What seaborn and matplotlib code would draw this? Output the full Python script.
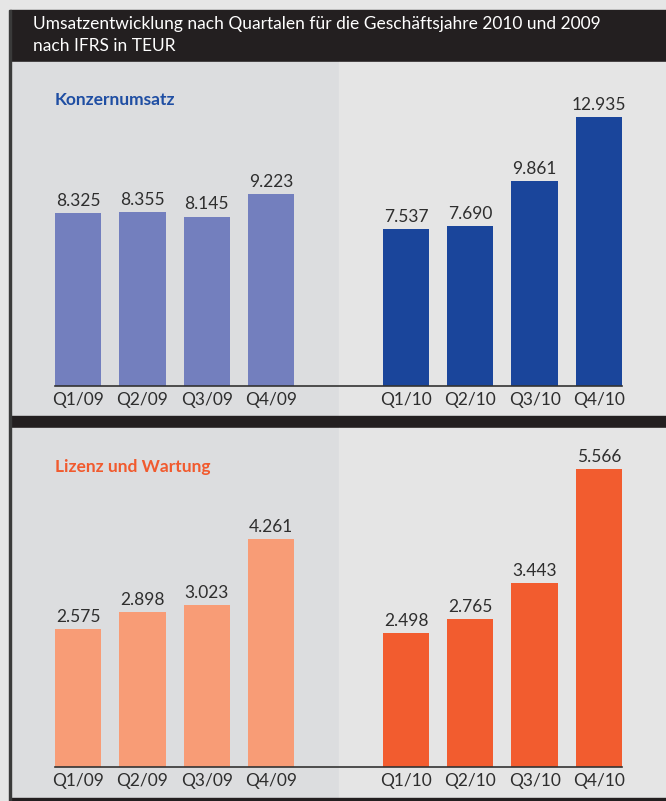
import pandas as pd
import matplotlib.pyplot as plt
import matplotlib.patches as mpatches
import seaborn as sns

# Daten (TEUR)
quartale = ['Q1/09', 'Q2/09', 'Q3/09', 'Q4/09', 'Q1/10', 'Q2/10', 'Q3/10', 'Q4/10']
konzernumsatz = [8325, 8355, 8145, 9223, 7537, 7690, 9861, 12935]
lizenz_wartung = [2575, 2898, 3023, 4261, 2498, 2765, 3443, 5566]

titel = 'Umsatzentwicklung nach Quartalen für die Geschäftsjahre 2010 und 2009\nnach IFRS in TEUR'

farben_konzern = ['#737fbe'] * 4 + ['#1a459b'] * 4
farben_lizenz = ['#f89c76'] * 4 + ['#f25c2f'] * 4

sns.set_style('white')
plt.rcParams['font.family'] = ['Lato', 'DejaVu Sans']

W, H = 666, 801
fig = plt.figure(figsize=(W / 100, H / 100), dpi=100)
fig.patch.set_facecolor('#e6e6e6')

# Hintergrund in Pixelkoordinaten
bg = fig.add_axes([0, 0, 1, 1])
bg.set_xlim(0, W)
bg.set_ylim(H, 0)
bg.axis('off')
dunkel = '#231f20'
bg.add_patch(mpatches.Rectangle((10, 10), W - 10, 52, color=dunkel))
bg.add_patch(mpatches.Rectangle((11, 62), 328, 354, color='#dcdddf'))
bg.add_patch(mpatches.Rectangle((339, 62), W - 339, 354, color='#e5e5e5'))
bg.add_patch(mpatches.Rectangle((10, 416), W - 10, 12, color=dunkel))
bg.add_patch(mpatches.Rectangle((11, 428), 328, 370, color='#dcdddf'))
bg.add_patch(mpatches.Rectangle((339, 428), W - 339, 370, color='#e5e5e5'))
bg.add_patch(mpatches.Rectangle((10, 798), W - 10, 3, color=dunkel))
bg.add_patch(mpatches.Rectangle((9, 10), 2, H - 10, color='#3a3a3a'))
bg.text(33, 35, titel, color='white', fontsize=12.5, va='center', ha='left', linespacing=1.4)

# Balkenpositionen: Lücke zwischen den Geschäftsjahren
pos = [i if i < 4 else i + 1.1 for i in range(len(quartale))]


def panel(rect, werte, farben, ymax, name, name_farbe, name_y):
    df = pd.DataFrame({'pos': pos, 'wert': werte, 'quartal': quartale})
    ax = fig.add_axes(rect)
    ax.set_facecolor('none')
    sns.barplot(data=df, x='pos', y='wert', hue='quartal', hue_order=quartale,
                palette=dict(zip(quartale, farben)), native_scale=True, dodge=False,
                width=0.72, saturation=1, errorbar=None, legend=False,
                linewidth=0, edgecolor='none', ax=ax)
    for c, v in zip(ax.containers, werte):
        ax.bar_label(c, labels=[f'{v:,}'.replace(',', '.')], padding=3,
                     fontsize=12.5, color='#2e2e2e')
    ax.set_xlim(-0.36, pos[-1] + 0.36)
    ax.set_ylim(0, ymax)
    ax.set_xticks(pos)
    ax.set_xticklabels(quartale, fontsize=12.5, color='#2e2e2e')
    ax.tick_params(axis='x', length=0, pad=4)
    ax.set_yticks([])
    ax.set_xlabel('')
    ax.set_ylabel('')
    for s in ['top', 'left', 'right']:
        ax.spines[s].set_visible(False)
    ax.spines['bottom'].set_color('#333333')
    ax.spines['bottom'].set_linewidth(1.2)
    bg.text(55, name_y, name, color=name_farbe, fontsize=12.5, fontweight='bold',
            va='center', ha='left')
    return ax


panel([55 / W, (H - 386) / H, 567 / W, 286 / H], konzernumsatz, farben_konzern,
      286 / 0.0208, 'Konzernumsatz', '#1f4ea3', 100)
panel([55 / W, (H - 767) / H, 567 / W, 327 / H], lizenz_wartung, farben_lizenz,
      327 / 0.0535, 'Lizenz und Wartung', '#f15a2e', 467)

plt.savefig('out.png', dpi=100, facecolor=fig.get_facecolor())
